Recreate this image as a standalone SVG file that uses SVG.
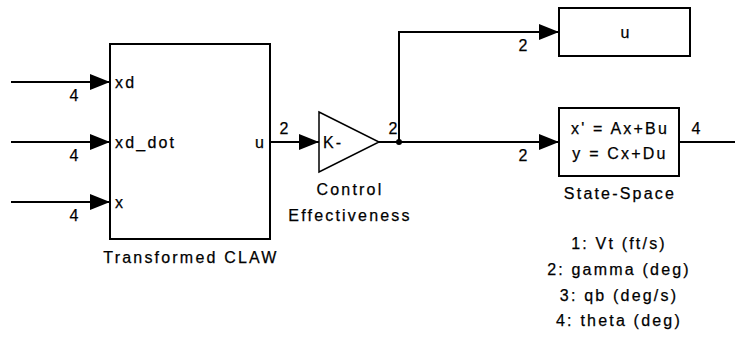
<svg xmlns="http://www.w3.org/2000/svg" width="735" height="339" viewBox="0 0 735 339">
<defs>
<style>
text{font-family:"Liberation Sans",Arial,sans-serif;font-size:16px;letter-spacing:2.2px;fill:#000;stroke:#000;stroke-width:0.25px}
.m{text-anchor:middle}
.e{text-anchor:end}
.box{fill:#fff;stroke:#000;stroke-width:2}
.w{fill:none;stroke:#000;stroke-width:2}
</style>
<marker id="ah" markerUnits="userSpaceOnUse" markerWidth="20" markerHeight="16" refX="20" refY="8" orient="auto" viewBox="0 0 20 16">
<path d="M0,0 L20,8 L0,16 Z" fill="#000"/>
</marker>
</defs>
<rect width="735" height="339" fill="#fff"/>
<g id="connectors">
<path class="w" d="M11,82 H110" marker-end="url(#ah)"/>
<path class="w" d="M11,142 H110" marker-end="url(#ah)"/>
<path class="w" d="M11,202 H110" marker-end="url(#ah)"/>
<path class="w" d="M270,142 H319" marker-end="url(#ah)"/>
<path class="w" d="M379,142 H559" marker-end="url(#ah)"/>
<path class="w" d="M399,142 V32 H559" marker-end="url(#ah)"/>
<path class="w" d="M679,142 H735"/>
<circle cx="399" cy="142" r="3" fill="#000"/>
<text class="m" x="75" y="101">4</text>
<text class="m" x="75" y="161">4</text>
<text class="m" x="75" y="221">4</text>
<text class="m" x="285" y="134">2</text>
<text class="m" x="394" y="134">2</text>
<text class="m" x="524" y="51">2</text>
<text class="m" x="524" y="161">2</text>
<text class="m" x="697" y="134">4</text>
</g>
<g id="claw">
<rect class="box" x="110" y="44" width="160" height="195"/>
<text x="115" y="88">xd</text>
<text x="115" y="148">xd_dot</text>
<text x="115" y="208">x</text>
<text class="e" x="266" y="148">u</text>
<text class="m" x="191" y="263">Transformed CLAW</text>
</g>
<g id="gain">
<path d="M319,112 L379,142 L319,172 Z" fill="#fff" stroke="#000" stroke-width="1.5"/>
<text x="323" y="148">K-</text>
<text class="m" x="350" y="195">Control</text>
<text class="m" x="350" y="221">Effectiveness</text>
</g>
<g id="scope-u">
<rect class="box" x="559" y="8" width="131" height="48"/>
<text class="m" x="626" y="38">u</text>
</g>
<g id="statespace">
<rect class="box" x="559" y="108" width="120" height="68"/>
<text class="m" x="620" y="134">x' = Ax+Bu</text>
<text class="m" x="620" y="159">y = Cx+Du</text>
<text class="m" x="620" y="199">State-Space</text>
</g>
<g id="legend">
<text class="m" x="619" y="249">1: Vt (ft/s)</text>
<text class="m" x="619" y="275">2: gamma (deg)</text>
<text class="m" x="619" y="301">3: qb (deg/s)</text>
<text class="m" x="619" y="326">4: theta (deg)</text>
</g>
</svg>
